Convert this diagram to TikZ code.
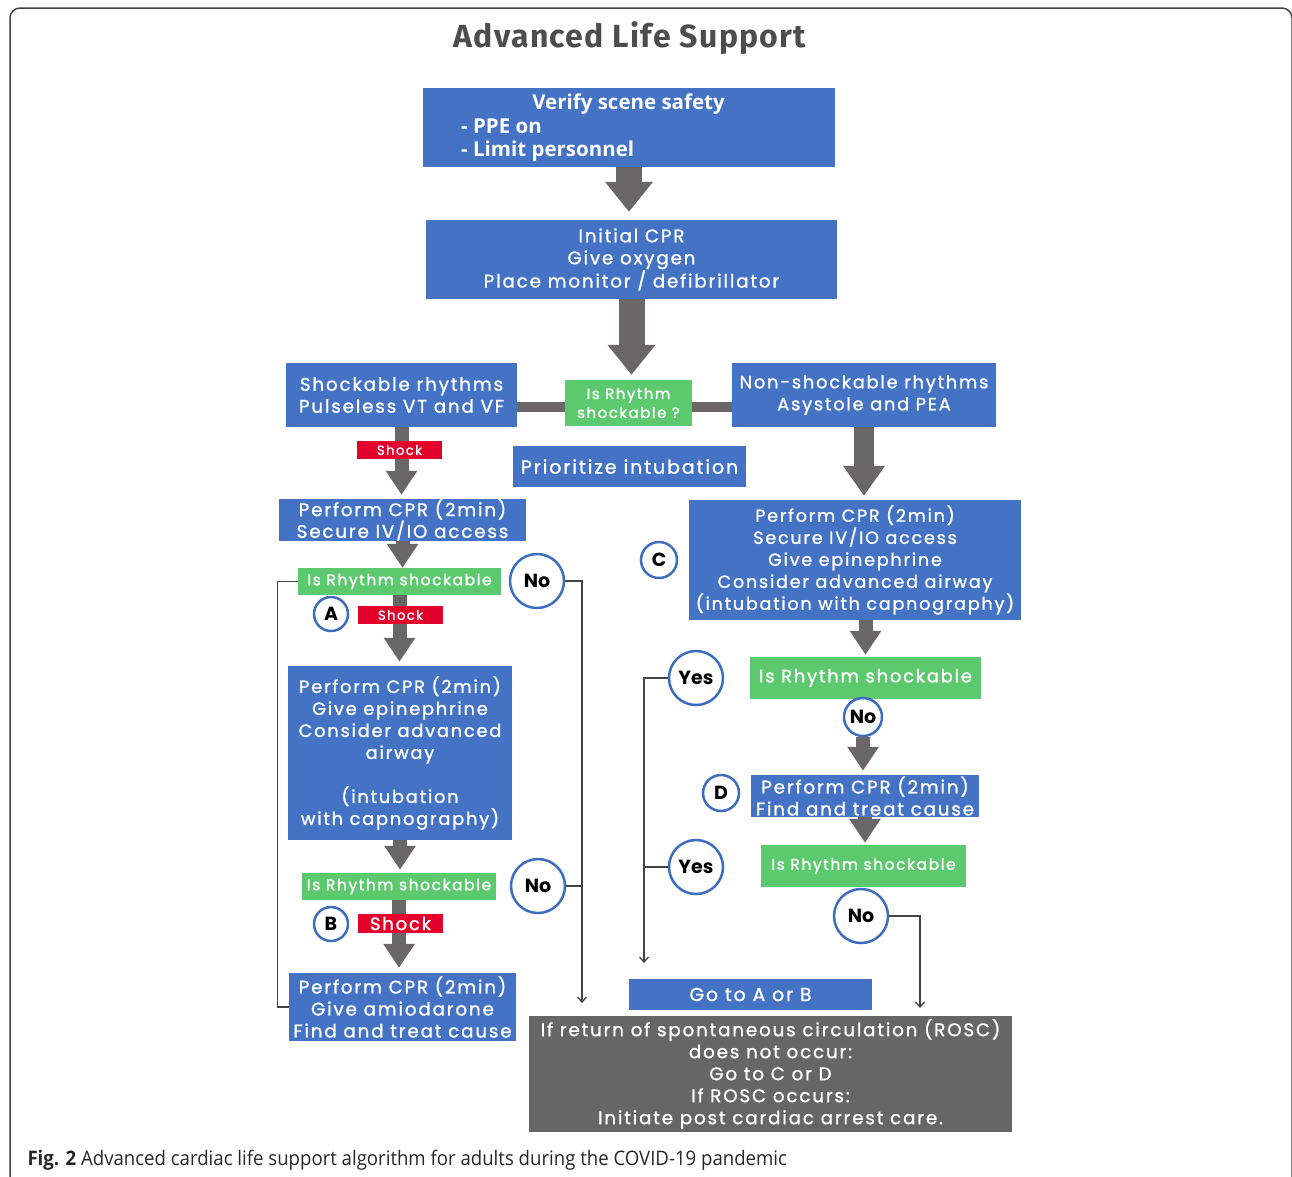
\documentclass[tikz,border=0pt]{standalone}
\usepackage{fontspec}
\setmainfont{Poppins}
\newfontfamily\bxfont{Poppins}[LetterSpace=10,FakeBold=1.2]
\newfontfamily\titlefont{Fira Sans}[LetterSpace=4]
\newfontfamily\capfont{Open Sans}[FakeStretch=0.93]
\newfontfamily\vfontfam{Open Sans}
\usetikzlibrary{arrows.meta}
\definecolor{bblue}{HTML}{4472C4}
\definecolor{cblue}{HTML}{3F6DBE}
\definecolor{ggreen}{HTML}{5CC96E}
\definecolor{rred}{HTML}{E3002B}
\definecolor{agray}{HTML}{6B6768}
\definecolor{rgray}{HTML}{666666}
\definecolor{lgray}{HTML}{444444}
\definecolor{tgray}{HTML}{4D4D4D}
\newcommand\fs[2]{\fontsize{#1}{#2}\selectfont}
\begin{document}
\begin{tikzpicture}[x=1pt,y=-1pt,
  box/.style={fill=bblue, text=white, inner sep=0pt, align=center, font=\bxfont\fs{18.3}{22}},
  gbox/.style={fill=ggreen, text=white, inner sep=0pt, align=center, font=\bxfont\fs{15.5}{19}},
  rbox/.style={fill=rred, text=white, inner sep=0pt, align=center, font=\bxfont\fs{13.3}{14}},
  vtext/.style={text=white, inner sep=0pt, font=\vfontfam\bfseries\fs{20.5}{22}},
  circ/.style={circle, draw=cblue, line width=2.5pt, fill=white, inner sep=0pt, font=\bfseries\fs{19}{20}},
  bigA/.style={draw=agray, line width=26pt, -{Triangle[width=46pt,length=30pt]}},
  bigB/.style={draw=agray, line width=20pt, -{Triangle[width=40pt,length=30pt]}},
  midA/.style={draw=agray, line width=14pt, -{Triangle[width=30pt,length=24pt]}},
  bar/.style={draw=agray, line width=10pt},
  thinl/.style={draw=lgray, line width=1.3pt},
  tipA/.style={-{Straight Barb[length=5pt,width=9pt]}}
]
\useasboundingbox (0,0) rectangle (1292,1176);
\begin{scope}
\clip (0,0) rectangle (1292,1176);
\draw[lgray, line width=1.5pt, rounded corners=10pt] (10,8) rectangle (1292,1220);
\end{scope}

\node[font=\titlefont\bfseries\fs{32}{32}, text=tgray] (title) at (630,38) {Advanced Life Support};

% top
\node[box, minimum width=412pt, minimum height=79pt] (verify) at (629,127.5) {};
\node[vtext] (vt1) at (628.5,104) {Verify scene safety};
\node[vtext, anchor=west] (vt2) at (461,126) {- PPE on};
\node[vtext, anchor=west] (vt3) at (461,151) {- Limit personnel};

\node[box, minimum width=411pt, minimum height=79pt] (init) at (631.5,259.5) {Initial CPR\\Give oxygen\\Place monitor / defibrillator};

\node[box, minimum width=231pt, minimum height=64pt] (shr) at (401.5,395) {Shockable rhythms\\Pulseless VT and VF};
\node[gbox, minimum width=127pt, minimum height=46pt, font=\bxfont\fs{15}{19}] (isq) at (628.5,403) {Is Rhythm\\shockable ?};
\node[box, minimum width=264pt, minimum height=64pt, font=\bxfont\fs{17.8}{22}] (nsr) at (864,395) {Non-shockable rhythms\\Asystole and PEA};
\node[box, minimum width=233pt, minimum height=41pt, font=\bxfont\fs{19}{22}] (prio) at (629.5,466.5) {Prioritize intubation};

% left column
\node[box, minimum width=247pt, minimum height=42pt, font=\bxfont\fs{18.3}{19}] (cpr1) at (402.5,520) {Perform CPR (2min)\\Secure IV/IO access};
\node[gbox, minimum width=203pt, minimum height=27pt] (isr1) at (399.5,581.5) {Is Rhythm shockable};
\node[circ, minimum size=54pt] (no1) at (537,581) {No};
\node[circ, minimum size=34pt] (A) at (331,614) {A};
\node[box, minimum width=224pt, minimum height=174pt, font=\bxfont\fs{17.8}{22}] (cpr2) at (400,753) {Perform CPR (2min)\\Give epinephrine\\Consider advanced\\airway\\[22pt](intubation\\with capnography)};
\node[gbox, minimum width=194pt, minimum height=27pt] (isr2) at (399,886.5) {Is Rhythm shockable};
\node[circ, minimum size=54pt] (no2) at (538,886) {No};
\node[circ, minimum size=34pt] (B) at (331,924) {B};
\node[box, minimum width=227pt, minimum height=68pt] (cpr3) at (402.5,1007) {Perform CPR (2min)\\Give amiodarone\\Find and treat cause};

% right column
\node[box, minimum width=332pt, minimum height=120pt, font=\bxfont\fs{17.6}{22}] (cpr4) at (855,560) {Perform CPR (2min)\\Secure IV/IO access\\Give epinephrine\\Consider advanced airway\\(intubation with capnography)};
\node[circ, minimum size=36pt] (C) at (659,560) {C};
\node[gbox, minimum width=231pt, minimum height=42pt, font=\bxfont\fs{17.9}{19}] (isr3) at (865.5,678) {Is Rhythm shockable};
\node[circ, minimum size=38pt] (no3) at (863,717) {No};
\node[circ, minimum size=36pt] (D) at (721,793) {D};
\node[box, minimum width=228pt, minimum height=42pt] (cpr5) at (865,796) {Perform CPR (2min)\\Find and treat cause};
\node[gbox, minimum width=205pt, minimum height=42pt] (isr4) at (863.5,866) {Is Rhythm shockable};
\node[circ, minimum size=54pt] (no4) at (861,916) {No};
\node[circ, minimum size=54pt] (yes1) at (696,678) {Yes};
\node[circ, minimum size=54pt] (yes2) at (696,867) {Yes};
\node[box, minimum width=243pt, minimum height=31pt, font=\bxfont\fs{18.8}{22}] (goto) at (750.5,994.5) {Go to A or B};
\node[box, fill=rgray, minimum width=483pt, minimum height=116pt] (rosc) at (770.5,1074) {If return of spontaneous circulation (ROSC)\\does not occur:\\Go to C or D\\If ROSC occurs:\\Initiate post cardiac arrest care.};

% big arrows
\draw[bigA, shorten >=8pt] (verify.south) -- (verify.south |- init.north);
\draw[bigA, shorten >=5pt] (init.south) -- (init.south |- isq.north);
\draw[bar] ([yshift=-4pt]isq.west) -- ([yshift=-4pt]isq.west -| shr.east);
\draw[bar] ([yshift=-4pt]isq.east) -- ([yshift=-4pt]isq.east -| nsr.west);
\draw[midA, shorten >=4pt] (shr.south) -- (shr.south |- cpr1.north);
\draw[midA] (cpr1.south) -- (cpr1.south |- isr1.north);
\draw[midA, shorten >=4pt] (isr1.south) -- (isr1.south |- cpr2.north);
\draw[midA, shorten >=3pt] (cpr2.south) -- (cpr2.south |- isr2.north);
\draw[midA, shorten >=5pt] (isr2.south) -- (isr2.south |- cpr3.north);
\draw[bigB, shorten >=4pt] (nsr.south) -- (nsr.south |- cpr4.north);
\draw[midA, shorten >=2pt] (isr3.north |- cpr4.south) -- (isr3.north);
\draw[midA, shorten >=4pt] (no3.south) -- (no3.south |- cpr5.north);
\draw[midA, shorten >=2pt] (cpr5.south) -- (cpr5.south |- isr4.north);

% shock labels (over the arrows)
\node[rbox, minimum width=85pt, minimum height=18pt] (sh1) at (399.5,450) {Shock};
\node[rbox, minimum width=85pt, minimum height=18pt] (sh2) at (400.5,615) {Shock};
\node[rbox, minimum width=85pt, minimum height=19pt, font=\bxfont\fs{18}{19}] (sh3) at (400.5,923.5) {Shock};

% thin connectors
\coordinate (rA) at (582,1003);
\coordinate (lA) at (644,963);
\coordinate (rB) at (920,1008);
\draw[thinl] (isr1.west) -- ++(-20,0) |- (cpr3.west);
\draw[thinl, tipA] (no1.east) -| (rA);
\draw[thinl] (no2.east) -- (no2.east -| rA);
\draw[thinl, tipA] (yes1.west) -| (lA);
\draw[thinl] (yes2.west) -- (yes2.west -| lA);
\draw[thinl, tipA] (no4.east) -| (rB);

\node[anchor=west, font=\capfont\fs{20}{22}, text=black!85] (cap) at (24,1160) {\textbf{Fig. 2} Advanced cardiac life support algorithm for adults during the COVID-19 pandemic};
\end{tikzpicture}
\end{document}
